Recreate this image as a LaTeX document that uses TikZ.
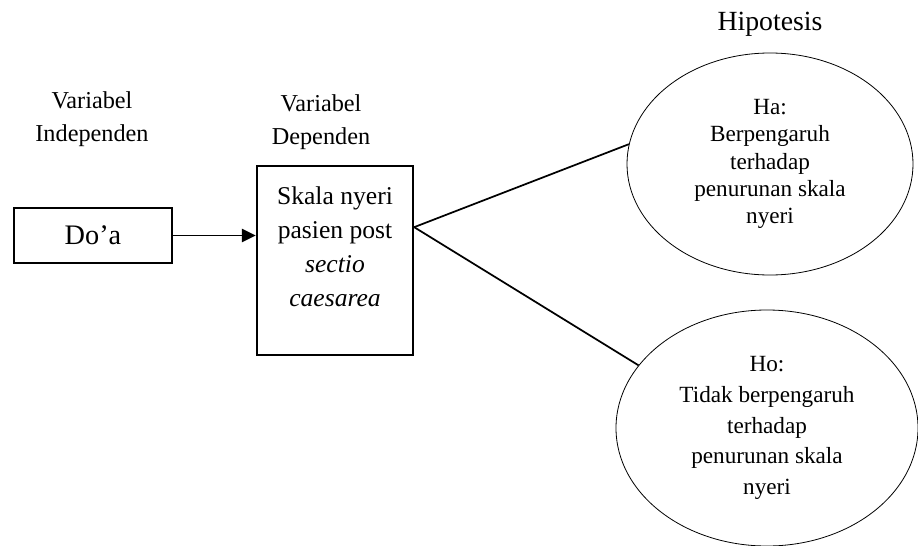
\documentclass[tikz,border=0pt]{standalone}
\usepackage{fontspec}
\setmainfont{Liberation Serif}
\usetikzlibrary{arrows.meta,shapes.geometric}
\tikzset{
  >={Triangle[length=10.5pt,width=10pt]},
  lbl/.style={align=center,inner sep=0pt,font=\fontsize{18.2}{24.5}\selectfont},
  varbox/.style={draw,line width=0.8pt,minimum width=118.5pt,minimum height=41.25pt,inner sep=0pt,
    font=\fontsize{21.2}{25}\selectfont},
  depbox/.style={draw,line width=1.8pt,minimum width=117pt,minimum height=141.75pt},
  hyp/.style={ellipse,draw,line width=0.6pt,inner sep=0pt,align=center,font=\fontsize{17.4}{20.5}\selectfont},
  flow/.style={->,line width=1.4pt},
  link/.style={line width=1.3pt},
}
\begin{document}
\begin{tikzpicture}[x=0.75pt,y=-0.75pt]
  \useasboundingbox (0,0) rectangle (918,546);
  % headings
  \node[inner sep=0pt,font=\fontsize{20.8}{25}\selectfont] (hip) at (770,24.5) {Hipotesis};
  \node[lbl] (indep) at (92,119) {Variabel\\Independen};
  \node[lbl] (deplbl) at (321,122) {Variabel\\Dependen};
  % variables
  \node[varbox] (doa) at (93,235.5) {Do’a};
  \node[depbox] (dep) at (335,260.5) {};
  \node[lbl,font=\fontsize{19.2}{25.5}\selectfont] (deptxt) at (335,247) {Skala nyeri\\pasien post\\\textit{sectio}\\\textit{caesarea}};
  % hypotheses
  \node[hyp,minimum width=214.5pt,minimum height=166.5pt] (ha) at (770,164) {Ha:\\Berpengaruh\\terhadap\\penurunan skala\\nyeri};
  \node[hyp,minimum width=226.5pt,minimum height=177pt,font=\fontsize{17.4}{23}\selectfont] (ho) at (767,428) {Ho:\\Tidak berpengaruh\\terhadap\\penurunan skala\\nyeri};
  \coordinate (fork) at ([yshift=25pt]dep.east);
  \draw[flow] (doa.east) -- (doa.east -| dep.west);
  \draw[link] (fork) -- (ha.172);
  \draw[link] (fork) -- (ho.154);
\end{tikzpicture}
\end{document}
